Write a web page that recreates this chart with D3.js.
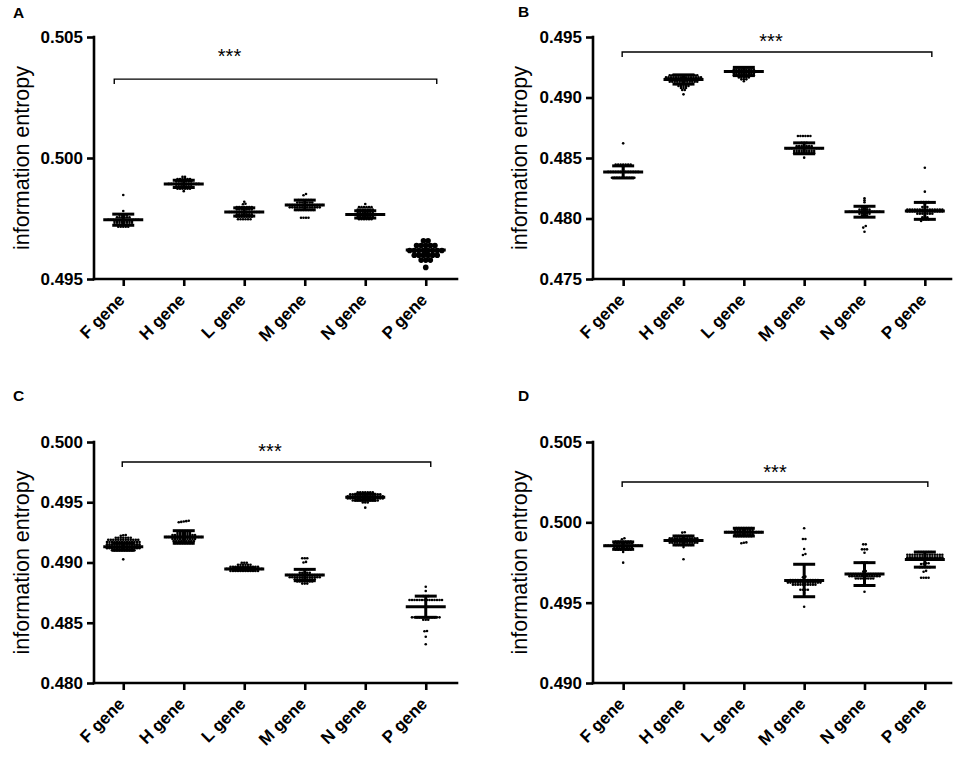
<!DOCTYPE html>
<html>
<head>
<meta charset="utf-8">
<script src="https://cdn.jsdelivr.net/npm/d3@7"></script>
<style>
  body { margin: 0; background: #fff; }
  svg { display: block; font-family: "Liberation Sans", Arial, sans-serif; }
</style>
</head>
<body>
<svg id="chart" width="957" height="764"></svg>
<script>
// Categories shared by all four panels
const genes = ['F gene', 'H gene', 'L gene', 'M gene', 'N gene', 'P gene'];

// Y tick values per panel
const ticksA = [0.495, 0.500, 0.505];
const ticksB = [0.475, 0.480, 0.485, 0.490, 0.495];
const ticksC = [0.480, 0.485, 0.490, 0.495, 0.500];
const ticksD = [0.490, 0.495, 0.500, 0.505];

// Individual points per gene
const pointsA = [
  [0.49716, 0.49716, 0.49716, 0.49716, 0.49716,
   0.49726, 0.49726, 0.49726, 0.49726, 0.49726, 0.49726, 0.49726, 0.49726,
   0.49736, 0.49736, 0.49736, 0.49736, 0.49736, 0.49736, 0.49736, 0.49736,
   0.49745, 0.49745, 0.49745, 0.49745, 0.49745, 0.49745, 0.49745, 0.49745, 0.49745, 0.49745, 0.49745, 0.49745, 0.49745,
   0.49755, 0.49755, 0.49755, 0.49755, 0.49755, 0.49755,
   0.49765, 0.49765, 0.49765, 0.49765, 0.49781, 0.49847],
  [0.49863,
   0.49873, 0.49873, 0.49873, 0.49873, 0.49873, 0.49873,
   0.49883, 0.49883, 0.49883, 0.49883, 0.49883, 0.49883, 0.49883,
   0.49893, 0.49893, 0.49893, 0.49893, 0.49893, 0.49893, 0.49893, 0.49893, 0.49893, 0.49893, 0.49893, 0.49893, 0.49893,
   0.49903, 0.49903, 0.49903, 0.49903, 0.49903, 0.49903, 0.49903,
   0.49913, 0.49913, 0.49913, 0.49913, 0.49913, 0.49913,
   0.49922, 0.49922],
  [0.49747, 0.49747, 0.49747, 0.49747, 0.49747, 0.49747,
   0.49757, 0.49757, 0.49757, 0.49757, 0.49757, 0.49757, 0.49757,
   0.49767, 0.49767, 0.49767, 0.49767, 0.49767, 0.49767, 0.49767,
   0.49777, 0.49777, 0.49777, 0.49777, 0.49777, 0.49777, 0.49777, 0.49777, 0.49777, 0.49777, 0.49777, 0.49777, 0.49777,
   0.49787, 0.49787, 0.49787, 0.49787, 0.49787, 0.49787, 0.49787,
   0.49797, 0.49797, 0.49797, 0.49797, 0.49797, 0.49797, 0.49797,
   0.49809, 0.49811, 0.49819],
  [0.49753, 0.49753, 0.49753, 0.49753,
   0.49785, 0.49785, 0.49785, 0.49785, 0.49785, 0.49785, 0.49785, 0.49785,
   0.49796, 0.49796, 0.49796, 0.49796, 0.49796, 0.49796, 0.49796, 0.49796, 0.49796, 0.49796, 0.49796, 0.49796, 0.49796,
   0.49806, 0.49806, 0.49806, 0.49806, 0.49806, 0.49806, 0.49806, 0.49806, 0.49806, 0.49806, 0.49806, 0.49806, 0.49806, 0.49806, 0.49806,
   0.49816, 0.49816, 0.49816, 0.49816, 0.49816, 0.49816, 0.49816,
   0.49826, 0.49826, 0.49826, 0.49826, 0.49826, 0.49826,
   0.49846, 0.49851],
  [0.49747, 0.49747, 0.49747, 0.49747, 0.49747, 0.49747,
   0.49757, 0.49757, 0.49757, 0.49757, 0.49757, 0.49757, 0.49757,
   0.49767, 0.49767, 0.49767, 0.49767, 0.49767, 0.49767, 0.49767, 0.49767, 0.49767, 0.49767, 0.49767, 0.49767, 0.49767,
   0.49777, 0.49777, 0.49777, 0.49777, 0.49777, 0.49777, 0.49777,
   0.49787, 0.49787, 0.49787, 0.49787, 0.49787, 0.49787, 0.49787,
   0.49797, 0.49797, 0.49797, 0.49797, 0.49797, 0.49797, 0.4981],
  [0.49548, 0.49578, 0.49578, 0.49578,
   0.49598, 0.49598, 0.49598, 0.49598, 0.49598, 0.49598,
   0.49618, 0.49618, 0.49618, 0.49618, 0.49618, 0.49618, 0.49618, 0.49618,
   0.49638, 0.49638, 0.49638, 0.49638, 0.49638, 0.49658, 0.49658]
];
const pointsB = [
  [0.48337, 0.48337, 0.48337, 0.48337, 0.48337, 0.48337, 0.48337, 0.48337, 0.48337, 0.48337,
   0.48385, 0.48385, 0.48385, 0.48385, 0.48385, 0.48385, 0.48385, 0.48385, 0.48385, 0.48385, 0.48385, 0.48385, 0.48385,
   0.48403, 0.4842,
   0.48445, 0.48445, 0.48445, 0.48445, 0.48445, 0.48445, 0.48445, 0.48621],
  [0.49026, 0.49062, 0.49062, 0.49078, 0.49078, 0.49078,
   0.49095, 0.49095, 0.49095, 0.49095, 0.49095,
   0.49112, 0.49112, 0.49112, 0.49112, 0.49112, 0.49112, 0.49112,
   0.4913, 0.4913, 0.4913, 0.4913, 0.4913, 0.4913, 0.4913, 0.4913, 0.4913, 0.4913, 0.4913, 0.4913,
   0.49148, 0.49148, 0.49148, 0.49148, 0.49148, 0.49148, 0.49148, 0.49148, 0.49148, 0.49148, 0.49148, 0.49148, 0.49148, 0.49148, 0.49148,
   0.49166, 0.49166, 0.49166, 0.49166, 0.49166, 0.49166, 0.49166, 0.49166, 0.49166, 0.49166, 0.49166, 0.49166, 0.49166, 0.49166, 0.49166,
   0.49184, 0.49184, 0.49184, 0.49184, 0.49184, 0.49184, 0.49184, 0.49184, 0.49184, 0.49184, 0.49184, 0.49184],
  [0.49134, 0.4915, 0.4915, 0.4915,
   0.49166, 0.49166, 0.49166, 0.49166, 0.49166,
   0.49183, 0.49183, 0.49183, 0.49183, 0.49183, 0.49183, 0.49183, 0.49183, 0.49183,
   0.49199, 0.49199, 0.49199, 0.49199, 0.49199, 0.49199, 0.49199, 0.49199, 0.49199,
   0.49215, 0.49215, 0.49215, 0.49215, 0.49215, 0.49215, 0.49215, 0.49215, 0.49215, 0.49215, 0.49215, 0.49215, 0.49215, 0.49215, 0.49215,
   0.49232, 0.49232, 0.49232, 0.49232, 0.49232, 0.49232, 0.49232, 0.49232, 0.49232,
   0.49249, 0.49249, 0.49249, 0.49249, 0.49249, 0.49249, 0.49249, 0.49249],
  [0.48503,
   0.4854, 0.4854, 0.4854, 0.4854, 0.4854, 0.4854, 0.4854, 0.4854, 0.4854,
   0.48558, 0.48558, 0.48558, 0.48558, 0.48558, 0.48558, 0.48558, 0.48558, 0.48558,
   0.4858, 0.4858, 0.4858, 0.4858, 0.4858, 0.4858, 0.4858, 0.4858, 0.4858, 0.4858, 0.4858, 0.4858, 0.4858, 0.4858, 0.4858,
   0.48598, 0.48598, 0.48598, 0.48598, 0.48598, 0.48598, 0.48598,
   0.48625, 0.48625, 0.48625,
   0.48682, 0.48682, 0.48682, 0.48682, 0.48682, 0.48682],
  [0.47891, 0.47925, 0.47938,
   0.48022, 0.48022, 0.48022, 0.48039, 0.48039, 0.48039, 0.48039, 0.48039,
   0.48056, 0.48056, 0.48056, 0.48056, 0.48056, 0.48056, 0.48056, 0.48056, 0.48056, 0.48056, 0.48056, 0.48056, 0.48056,
   0.48073, 0.48073, 0.48073, 0.48073, 0.48073, 0.4809, 0.4809, 0.4809,
   0.48134, 0.4815, 0.48167],
  [0.4798, 0.47993, 0.47993, 0.47993, 0.4801, 0.4801, 0.4801,
   0.4804, 0.4804, 0.4804, 0.4804, 0.4804, 0.4804, 0.4804,
   0.48058, 0.48058, 0.48058, 0.48058, 0.48058, 0.48058, 0.48058, 0.48058, 0.48058, 0.48058, 0.48058, 0.48058, 0.48058, 0.48058, 0.48058,
   0.48075, 0.48075, 0.48075, 0.48075, 0.48075, 0.48075, 0.48075, 0.48075, 0.48075, 0.48075, 0.48075, 0.48075, 0.48075, 0.48075, 0.48075,
   0.48095, 0.48095, 0.48095, 0.48135, 0.48135, 0.48135, 0.48135, 0.48222, 0.4842]
];
const pointsC = [
  [0.49026,
   0.49101, 0.49101, 0.49101, 0.49101, 0.49101, 0.49101, 0.49101, 0.49101, 0.49101, 0.49101,
   0.49118, 0.49118, 0.49118, 0.49118, 0.49118, 0.49118, 0.49118, 0.49118, 0.49118, 0.49118, 0.49118, 0.49118, 0.49118, 0.49118,
   0.49135, 0.49135, 0.49135, 0.49135, 0.49135, 0.49135, 0.49135, 0.49135, 0.49135, 0.49135, 0.49135, 0.49135, 0.49135, 0.49135,
   0.49152, 0.49152, 0.49152, 0.49152, 0.49152, 0.49152, 0.49152, 0.49152, 0.49152, 0.49152, 0.49152, 0.49152, 0.49152, 0.49152,
   0.4917, 0.4917, 0.4917, 0.4917, 0.4917, 0.4917, 0.4917, 0.4917, 0.4917, 0.4917, 0.4917, 0.4917, 0.4917, 0.4917,
   0.49188, 0.49188, 0.49188, 0.49188, 0.49188, 0.49188, 0.49188, 0.49188, 0.49188, 0.49188, 0.49188, 0.49188, 0.49188,
   0.49205, 0.49205, 0.49205, 0.49205, 0.49205, 0.49205, 0.49205,
   0.49222, 0.49226, 0.49228],
  [0.4916, 0.4916, 0.4916, 0.4916, 0.4916, 0.4916, 0.4916, 0.4916,
   0.49177, 0.49177, 0.49177, 0.49177, 0.49177, 0.49177, 0.49177, 0.49177, 0.49177,
   0.49194, 0.49194, 0.49194, 0.49194, 0.49194, 0.49194, 0.49194, 0.49194, 0.49194, 0.49194,
   0.49211, 0.49211, 0.49211, 0.49211, 0.49211, 0.49211, 0.49211, 0.49211, 0.49211, 0.49211, 0.49211, 0.49211, 0.49211, 0.49211, 0.49211,
   0.49228, 0.49228, 0.49228, 0.49228, 0.49228, 0.49228, 0.49228, 0.49228, 0.49228, 0.49228,
   0.49245, 0.49245, 0.49245, 0.49245, 0.49245, 0.49245,
   0.49262, 0.49262, 0.49262, 0.49262,
   0.49334, 0.49337, 0.4934, 0.49343, 0.49347],
  [0.4893, 0.4893, 0.4893, 0.4893, 0.4893, 0.4893, 0.4893, 0.4893, 0.4893, 0.4893, 0.4893, 0.4893,
   0.48947, 0.48947, 0.48947, 0.48947, 0.48947, 0.48947, 0.48947, 0.48947, 0.48947, 0.48947, 0.48947, 0.48947, 0.48947, 0.48947, 0.48947,
   0.48964, 0.48964, 0.48964, 0.48964, 0.48964, 0.48964, 0.48964, 0.48964, 0.48964, 0.48964, 0.48964, 0.48964,
   0.48981, 0.48981, 0.48981, 0.48981, 0.48981, 0.48981,
   0.48998, 0.48998, 0.48998],
  [0.48825, 0.48825, 0.48825,
   0.48843, 0.48843, 0.48843, 0.48843, 0.48843, 0.48843, 0.48843,
   0.4886, 0.4886, 0.4886, 0.4886, 0.4886, 0.4886, 0.4886, 0.4886, 0.4886,
   0.48878, 0.48878, 0.48878, 0.48878, 0.48878, 0.48878, 0.48878, 0.48878, 0.48878, 0.48878, 0.48878, 0.48878, 0.48878,
   0.48896, 0.48896, 0.48896, 0.48896, 0.48896, 0.48896, 0.48896, 0.48896, 0.48896, 0.48896, 0.48896, 0.48896, 0.48896, 0.48896, 0.48896,
   0.48914, 0.48914, 0.48914, 0.48914, 0.48914,
   0.48943, 0.48943, 0.48943, 0.48943,
   0.49, 0.49005, 0.49035, 0.49035, 0.49035],
  [0.49455, 0.49498, 0.49498, 0.49498,
   0.49515, 0.49515, 0.49515, 0.49515, 0.49515, 0.49515, 0.49515, 0.49515, 0.49515, 0.49515, 0.49515,
   0.49532, 0.49532, 0.49532, 0.49532, 0.49532, 0.49532, 0.49532, 0.49532, 0.49532, 0.49532, 0.49532, 0.49532, 0.49532, 0.49532, 0.49532,
   0.49549, 0.49549, 0.49549, 0.49549, 0.49549, 0.49549, 0.49549, 0.49549, 0.49549, 0.49549, 0.49549, 0.49549, 0.49549, 0.49549, 0.49549,
   0.49566, 0.49566, 0.49566, 0.49566, 0.49566, 0.49566, 0.49566, 0.49566, 0.49566, 0.49566, 0.49566, 0.49566, 0.49566,
   0.49583, 0.49583, 0.49583, 0.49583, 0.49583, 0.49583, 0.49583],
  [0.48321, 0.48384, 0.4843, 0.48432,
   0.48525, 0.48525, 0.48525,
   0.48545, 0.48545, 0.48545, 0.48545, 0.48545, 0.48545, 0.48545, 0.48545, 0.48545, 0.48545, 0.48545, 0.48545,
   0.48689, 0.48689, 0.48689, 0.48689, 0.48689, 0.48689, 0.48689, 0.48689, 0.48689, 0.48689, 0.48689, 0.48689, 0.48689, 0.48689,
   0.48721, 0.48721, 0.48721, 0.48763, 0.48799]
];
const pointsD = [
  [0.49749, 0.49816,
   0.49829, 0.49829, 0.49829, 0.49829, 0.49829, 0.49829, 0.49829,
   0.49842, 0.49842, 0.49842, 0.49842, 0.49842, 0.49842, 0.49842, 0.49842,
   0.49855, 0.49855, 0.49855, 0.49855, 0.49855, 0.49855, 0.49855, 0.49855, 0.49855, 0.49855, 0.49855, 0.49855, 0.49855, 0.49855, 0.49855,
   0.49868, 0.49868, 0.49868, 0.49868, 0.49868, 0.49868, 0.49868, 0.49868,
   0.49881, 0.49881, 0.49881, 0.49881, 0.49881, 0.49881, 0.49881,
   0.49895, 0.49901],
  [0.4977, 0.49846,
   0.49859, 0.49859, 0.49859, 0.49859, 0.49859, 0.49859, 0.49859,
   0.49873, 0.49873, 0.49873, 0.49873, 0.49873, 0.49873, 0.49873, 0.49873, 0.49873, 0.49873, 0.49873, 0.49873,
   0.49887, 0.49887, 0.49887, 0.49887, 0.49887, 0.49887, 0.49887, 0.49887, 0.49887, 0.49887, 0.49887, 0.49887, 0.49887, 0.49887, 0.49887,
   0.49901, 0.49901, 0.49901, 0.49901, 0.49901, 0.49901, 0.49901, 0.49901, 0.49901, 0.49901, 0.49901, 0.49901,
   0.49915, 0.49915, 0.49915, 0.49915, 0.49915, 0.49915, 0.49915,
   0.49936, 0.49938],
  [0.4987, 0.49873, 0.49875,
   0.49913, 0.49913, 0.49913, 0.49913, 0.49913, 0.49913, 0.49913,
   0.49926, 0.49926, 0.49926, 0.49926, 0.49926, 0.49926, 0.49926, 0.49926,
   0.49939, 0.49939, 0.49939, 0.49939, 0.49939, 0.49939, 0.49939, 0.49939, 0.49939, 0.49939, 0.49939, 0.49939, 0.49939, 0.49939, 0.49939,
   0.49952, 0.49952, 0.49952, 0.49952, 0.49952, 0.49952, 0.49952, 0.49952,
   0.49965, 0.49965, 0.49965, 0.49965, 0.49965, 0.49965, 0.49965],
  [0.49475, 0.4956, 0.4958, 0.4958, 0.4958, 0.4958,
   0.49612, 0.49612, 0.49612, 0.49612, 0.49612, 0.49612, 0.49612, 0.49612, 0.49612, 0.49612,
   0.49625, 0.49625, 0.49625, 0.49625, 0.49625, 0.49625, 0.49625, 0.49625, 0.49625, 0.49625, 0.49625, 0.49625, 0.49625, 0.49625,
   0.4964, 0.4964, 0.4964, 0.4964, 0.4964, 0.4964, 0.4964, 0.4964, 0.4964, 0.4964, 0.4964, 0.4964,
   0.49658, 0.49662, 0.49797, 0.49803, 0.49834, 0.49896, 0.49896, 0.49963],
  [0.49568, 0.49607, 0.49607, 0.49607,
   0.4965, 0.4965, 0.4965, 0.4965, 0.4965, 0.4965, 0.4965, 0.4965,
   0.49665, 0.49665, 0.49665, 0.49665, 0.49665, 0.49665, 0.49665, 0.49665, 0.49665, 0.49665, 0.49665, 0.49665, 0.49665,
   0.49678, 0.49678, 0.49678, 0.49678, 0.49678, 0.49678, 0.49678, 0.49678, 0.49678, 0.49678, 0.49678, 0.49678, 0.49678, 0.49678,
   0.49693, 0.49697, 0.49749, 0.49749, 0.49749,
   0.49811, 0.49832, 0.49832, 0.49832, 0.49863, 0.49863],
  [0.49655, 0.49655, 0.49655, 0.49655, 0.49692, 0.49698,
   0.49721, 0.49721, 0.49721, 0.49721, 0.49721,
   0.4974, 0.49742, 0.49745, 0.49745,
   0.49782, 0.49782, 0.49782, 0.49782, 0.49782, 0.49782, 0.49782, 0.49782, 0.49782, 0.49782, 0.49782, 0.49782, 0.49782, 0.49782, 0.49782,
   0.49798, 0.49798, 0.49798, 0.49798, 0.49798, 0.49798, 0.49798, 0.49798, 0.49798, 0.49798, 0.49798, 0.49798, 0.49798, 0.49798, 0.49798,
   0.49815, 0.49815, 0.49815, 0.49815, 0.49815, 0.49815]
];

// Mean and SD per gene
const meansA = [0.49745, 0.49893, 0.49777, 0.49806, 0.49767, 0.49620];
const sdsA   = [0.00023, 0.00015, 0.00017, 0.00020, 0.00015, 0.00020];
const meansB = [0.48385, 0.49149, 0.49215, 0.48580, 0.48056, 0.48063];
const sdsB   = [0.00050, 0.00038, 0.00034, 0.00045, 0.00045, 0.00070];
const meansC = [0.49131, 0.49212, 0.48946, 0.48896, 0.49541, 0.48633];
const sdsC   = [0.00030, 0.00052, 0.00010, 0.00047, 0.00025, 0.00088];
const meansD = [0.49855, 0.49887, 0.49939, 0.49638, 0.49678, 0.49768];
const sdsD   = [0.00023, 0.00028, 0.00024, 0.00101, 0.00071, 0.00047];

// Height of the significance bracket in each panel
const bracketLevels = [0.50326, 0.49376, 0.49834, 0.50251];

// Layout of each panel
const panels = [
  {letter: 'A', lx: 13, ly: 18, axisX: 94, range: [93, 456], xEnd: 457, top: 37, bottom: 279,
   domain: [0.495, 0.505], ticks: ticksA, points: pointsA, means: meansA, sds: sdsA,
   bracket: bracketLevels[0], pad: [-9, 11], starsDx: -46, starsDy: -16, ylabX: 29, bigDots: [5]},
  {letter: 'B', lx: 518, ly: 17, axisX: 593, range: [593, 955], xEnd: 951, top: 37, bottom: 279,
   domain: [0.475, 0.495], ticks: ticksB, points: pointsB, means: meansB, sds: sdsB,
   bracket: bracketLevels[1], pad: [-1, 7], starsDx: -6, starsDy: -4.5, ylabX: 527, bigDots: []},
  {letter: 'C', lx: 13, ly: 401, axisX: 94, range: [93, 456], xEnd: 457, top: 442, bottom: 683,
   domain: [0.480, 0.500], ticks: ticksC, points: pointsC, means: meansC, sds: sdsC,
   bracket: bracketLevels[2], pad: [-1, 5], starsDx: -6.5, starsDy: -3.7, ylabX: 29, bigDots: []},
  {letter: 'D', lx: 518, ly: 401, axisX: 593, range: [593, 955], xEnd: 951, top: 442, bottom: 683,
   domain: [0.490, 0.505], ticks: ticksD, points: pointsD, means: meansD, sds: sdsD,
   bracket: bracketLevels[3], pad: [-1, 3], starsDx: 0, starsDy: -2.7, ylabX: 527, bigDots: []}
];

const svg = d3.select('#chart');
const fmt = d3.format('.3f');
const font = '"Liberation Sans", Arial, sans-serif';

// Prism-like scatter: points sharing a row are spread sideways around the centre
function swarm(values, y, gap, step) {
  const pts = values.map((v) => ({v: v, y: y(v)})).sort((a, b) => b.y - a.y);
  const rows = [];
  pts.forEach((p) => {
    const row = rows[rows.length - 1];
    if (row && Math.abs(p.y - row[0].y) < gap) row.push(p);
    else rows.push([p]);
  });
  rows.forEach((row) => {
    row.forEach((p, i) => { p.dx = (i - (row.length - 1) / 2) * step; });
  });
  return pts;
}

panels.forEach((p) => {
  const g = svg.append('g').attr('class', 'panel');
  const x = d3.scalePoint().domain(genes).range(p.range).padding(0.5);
  const y = d3.scaleLinear().domain(p.domain).range([p.bottom, p.top]);

  // Axes
  const yAxis = g.append('g')
    .attr('transform', `translate(${p.axisX},0)`)
    .call(d3.axisLeft(y).tickValues(p.ticks).tickFormat(fmt).tickSize(7).tickSizeOuter(0).tickPadding(4));
  const xAxis = g.append('g')
    .attr('transform', `translate(0,${p.bottom})`)
    .call(d3.axisBottom(x).tickSize(7).tickSizeOuter(0).tickFormat(''));
  xAxis.select('.domain').attr('d', `M${p.axisX},0H${p.xEnd}`);
  yAxis.select('.domain').attr('d', `M0,${p.bottom}V${p.top}`);

  g.selectAll('.domain, .tick line').
    attr('stroke', '#000').
    attr('stroke-width', 2.6);
  g.selectAll('.domain').attr('stroke-linecap', 'square');

  yAxis.selectAll('.tick text').
    attr('font-family', font).
    attr('font-size', 17).
    attr('font-weight', 'bold').
    attr('fill', '#000');

  xAxis.selectAll('.tick text').remove();
  xAxis.selectAll('.tick').append('text').
    attr('transform', 'translate(2,22) rotate(-45)').
    attr('text-anchor', 'end').
    attr('font-family', font).
    attr('font-size', 17).
    attr('font-weight', 'bold').
    attr('fill', '#000').
    text((d) => d);

  // Axis title and panel letter
  g.append('text').
    attr('transform', `translate(${p.ylabX},${(p.top + p.bottom) / 2}) rotate(-90)`).
    attr('text-anchor', 'middle').
    attr('font-size', 21.5).
    text('information entropy');
  g.append('text').
    attr('x', p.lx).
    attr('y', p.ly).
    attr('font-size', 15.5).
    attr('font-weight', 'bold').
    text(p.letter);

  // Dots, mean line and SD bars
  genes.forEach((gene, i) => {
    const cx = x(gene);
    const big = p.bigDots.includes(i);
    const r = big ? 2.8 : 1.3;
    const pts = big ? swarm(p.points[i], y, 3.9, 4.6) : swarm(p.points[i], y, 1.8, 2.5);
    g.append('g').selectAll('circle').data(pts).join('circle').
      attr('cx', (d) => cx + d.dx).
      attr('cy', (d) => d.y).
      attr('r', r).
      attr('fill', '#000');

    const m = p.means[i];
    const s = p.sds[i];
    const bars = g.append('g').attr('stroke', '#000').attr('stroke-width', 3).attr('fill', 'none');
    bars.append('line').attr('x1', cx - 20).attr('x2', cx + 20).attr('y1', y(m)).attr('y2', y(m));
    bars.append('line').attr('x1', cx).attr('x2', cx).attr('y1', y(m - s)).attr('y2', y(m + s));
    [m - s, m + s].forEach((v) => {
      bars.append('line').attr('x1', cx - 11).attr('x2', cx + 11).attr('y1', y(v)).attr('y2', y(v));
    });
  });

  // Significance bracket across all genes
  const yb = y(p.bracket);
  const xl = x(genes[0]) + p.pad[0];
  const xr = x(genes[genes.length - 1]) + p.pad[1];
  g.append('path').
    attr('d', `M${xl},${yb + 5}V${yb}H${xr}V${yb + 5}`).
    attr('fill', 'none').
    attr('stroke', '#000').
    attr('stroke-width', 1.4);
  g.append('text').
    attr('x', (xl + xr) / 2 + p.starsDx).
    attr('y', yb + p.starsDy).
    attr('text-anchor', 'middle').
    attr('font-size', 20).
    text('***');
});
</script>
</body>
</html>
